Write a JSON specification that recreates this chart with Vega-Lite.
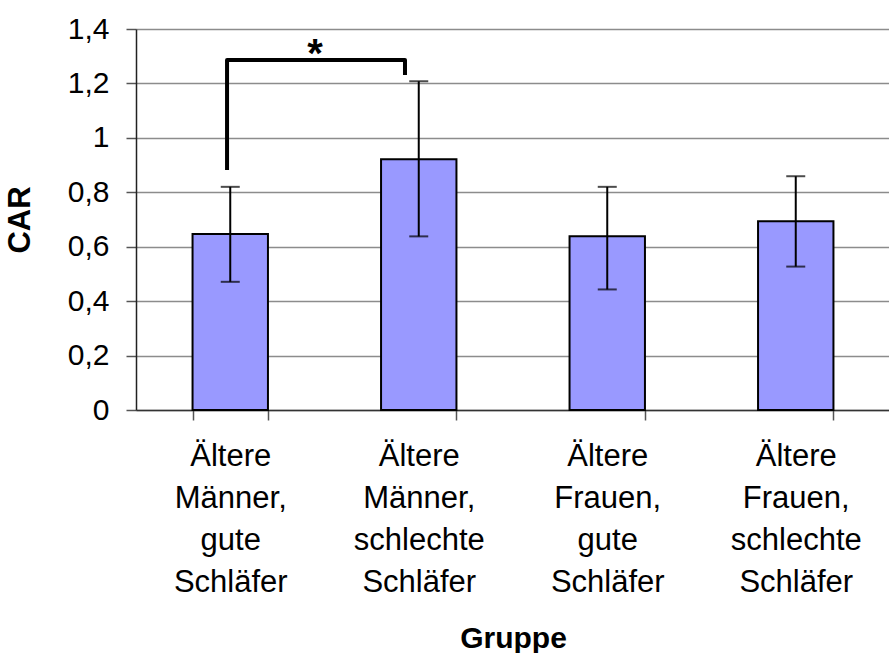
{
  "$schema": "https://vega.github.io/schema/vega-lite/v6.json",
  "width": 754,
  "height": 381,
  "padding": {"left": 4, "top": 14, "right": 0, "bottom": 0},
  "background": "white",
  "config": {"font": "Liberation Sans", "view": {"stroke": null}},
  "datasets": {
    "bars": [
      {"Gruppe": "Ältere Männer, gute Schläfer", "CAR": 0.647, "lo": 0.471, "hi": 0.820},
      {"Gruppe": "Ältere Männer, schlechte Schläfer", "CAR": 0.921, "lo": 0.638, "hi": 1.208},
      {"Gruppe": "Ältere Frauen, gute Schläfer", "CAR": 0.638, "lo": 0.443, "hi": 0.820},
      {"Gruppe": "Ältere Frauen, schlechte Schläfer", "CAR": 0.694, "lo": 0.527, "hi": 0.859}
    ],
    "bracket": [
      {"i": 0, "bx": 0.483, "by": 0.882},
      {"i": 1, "bx": 0.483, "by": 1.286},
      {"i": 2, "bx": 1.427, "by": 1.286},
      {"i": 3, "bx": 1.427, "by": 1.231}
    ],
    "star": [
      {"sx": 0.95, "sy": 1.262, "label": "*"}
    ]
  },
  "layer": [
    {
      "data": {"name": "bars"},
      "encoding": {
        "x": {
          "field": "Gruppe",
          "type": "nominal",
          "sort": null,
          "scale": {"paddingInner": 0.6, "paddingOuter": 0.3},
          "axis": {
            "title": "Gruppe",
            "titleFontSize": 30,
            "titleFontWeight": "bold",
            "titleColor": "#000",
            "titlePadding": 26,
            "labelExpr": "split(datum.label, ' ')",
            "labelFontSize": 31,
            "labelLineHeight": 42,
            "labelColor": "#000",
            "labelPadding": 21,
            "labelAngle": 0,
            "labelLimit": 0,
            "tickSize": 10,
            "tickBand": "extent",
            "tickColor": "#555",
            "tickWidth": 1.5,
            "domainColor": "#333",
            "domainWidth": 1.5
          }
        }
      },
      "layer": [
        {
          "mark": {"type": "bar", "fill": "#9999ff", "stroke": "#000", "strokeWidth": 2},
          "encoding": {
            "y": {
              "field": "CAR",
              "type": "quantitative",
              "title": "CAR",
              "scale": {"domain": [0, 1.4], "nice": false},
              "axis": {
                "values": [0, 0.2, 0.4, 0.6, 0.8, 1, 1.2, 1.4],
                "labelExpr": "replace(format(datum.value, '~g'), '.', ',')",
                "labelFontSize": 30,
                "labelColor": "#000",
                "labelPadding": 17,
                "tickSize": 10,
                "tickColor": "#555",
                "tickWidth": 1.5,
                "gridColor": "#8c8c8c",
                "gridWidth": 1.5,
                "domainColor": "#222",
                "domainWidth": 1.5,
                "titleFontSize": 31,
                "titleFontWeight": "bold",
                "titleColor": "#000",
                "titlePadding": 31
              }
            }
          }
        },
        {
          "mark": {"type": "rule", "color": "#000", "strokeWidth": 2},
          "encoding": {
            "y": {"field": "lo", "type": "quantitative", "title": "CAR"},
            "y2": {"field": "hi"}
          }
        },
        {
          "mark": {"type": "tick", "color": "#000", "thickness": 2, "size": 19},
          "encoding": {"y": {"field": "hi", "type": "quantitative", "title": "CAR"}}
        },
        {
          "mark": {"type": "tick", "color": "#000", "thickness": 2, "size": 19},
          "encoding": {"y": {"field": "lo", "type": "quantitative", "title": "CAR"}}
        }
      ]
    },
    {
      "data": {"name": "bracket"},
      "mark": {"type": "line", "color": "#000", "strokeWidth": 4, "strokeJoin": "round"},
      "encoding": {
        "x": {"field": "bx", "type": "quantitative", "scale": {"domain": [0, 4], "nice": false, "zero": false}, "axis": null},
        "y": {"field": "by", "type": "quantitative", "title": "CAR"},
        "order": {"field": "i"}
      }
    },
    {
      "data": {"name": "star"},
      "mark": {"type": "text", "fontSize": 40, "fontWeight": "bold", "align": "center", "baseline": "alphabetic", "color": "#000"},
      "encoding": {
        "x": {"field": "sx", "type": "quantitative", "scale": {"domain": [0, 4], "nice": false, "zero": false}, "axis": null},
        "y": {"field": "sy", "type": "quantitative", "title": "CAR"},
        "text": {"field": "label"}
      }
    }
  ],
  "resolve": {"scale": {"x": "independent"}}
}
